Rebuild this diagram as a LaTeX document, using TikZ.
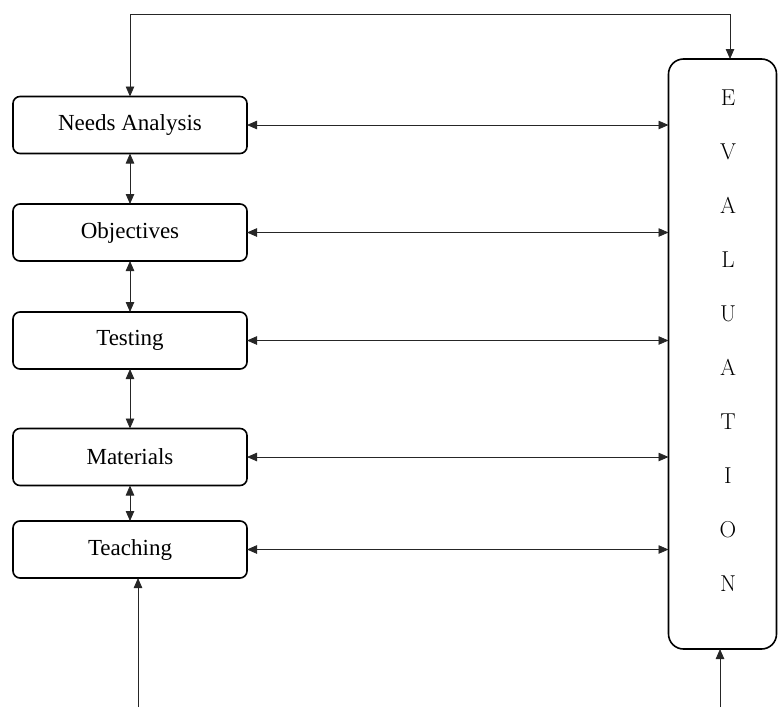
\documentclass[tikz,border=0pt]{standalone}
\usepackage{fontspec}
\newfontfamily\stagefont{Liberation Serif}
\usetikzlibrary{
arrows.meta,
calc
}
\tikzset{
  every node/.style = {
    inner sep = 0pt,
    outer sep = 0pt
  }
}

\begin{document}
\begin{tikzpicture}[
        x = 1pt,
        y = -1pt,
        >={Triangle[length = 10pt, width = 8.5pt]},
        stage/.style={
          draw,
          line width = 1.6pt,
          rounded corners = 7pt,
          minimum width = 234pt,
          minimum height = 57pt,
          font = \stagefont\fontsize{23}{27}\selectfont,
        },
        evalbox/.style={
          draw,
          line width = 1.6pt,
          rounded corners = 15pt,
          minimum width = 108pt,
          minimum height = 590pt,
        },
        link/.style={
          line width = 0.8pt,
          draw = black!85,
        },
        ]
        \useasboundingbox (0,0) rectangle (778,707);
        \node [stage] (needs) at (130,125) {Needs Analysis};
        \node [stage] (objectives) at (130,232.5) {Objectives};
        \node [stage] (testing) at (130,340.5) {Testing};
        \node [stage] (materials) at (130,457) {Materials};
        \node [stage] (teaching) at (130,549.5) {Teaching};
        \node [evalbox] (evaluation) at (722.5,354) {};
        \node [font = \fontsize{23}{54}\selectfont, align = center] (evalletters) at (728,341)
        {E\\V\\A\\L\\U\\A\\T\\I\\O\\N};
        \coordinate (loop-top) at (730,14);
        \coordinate (teach-in) at (138,707);
        \coordinate (eval-in) at (720,707);
        \draw [link, <->] (needs.north) |- (loop-top) -- (loop-top |- evaluation.north);
        \foreach \from/\to in {needs/objectives, objectives/testing, testing/materials, materials/teaching}
          \draw [link, <->] (\from.south) -- (\to.north);
        \foreach \stage in {needs, objectives, testing, materials, teaching}
          \draw [link, <->] (\stage.east) -- (\stage.east -| evaluation.west);
        \draw [link, ->] (teach-in) -- (teach-in |- teaching.south);
        \draw [link, ->] (eval-in) -- (eval-in |- evaluation.south);
      \end{tikzpicture}
\end{document}
